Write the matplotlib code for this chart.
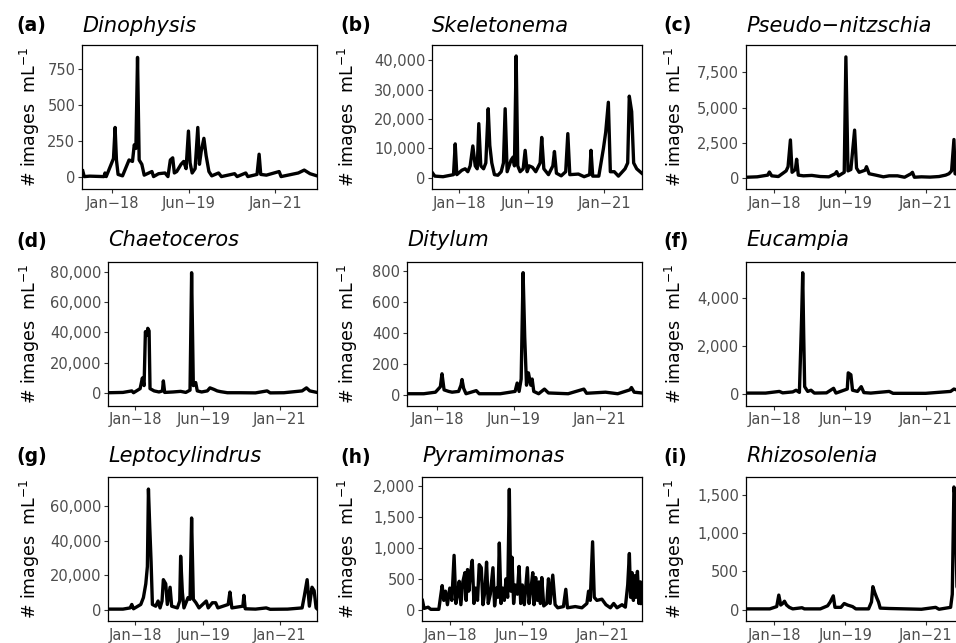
import matplotlib
matplotlib.use("Agg")
import matplotlib.pyplot as plt
import matplotlib.ticker as mticker
import pandas as pd

plt.rcParams['font.family'] = ['DejaVu Sans']
plt.rcParams['mathtext.fontset'] = 'dejavusans'

# ---------------- data ----------------
dino_dates = ['2017-06-15','2017-06-25','2017-08-01','2017-11-05','2017-11-12','2017-11-20',
 '2018-01-08','2018-01-19','2018-01-28','2018-02-08','2018-03-10','2018-04-23','2018-05-16',
 '2018-05-28','2018-06-08','2018-06-19','2018-06-30','2018-07-18','2018-08-03','2018-09-24',
 '2018-10-05','2018-11-08','2018-12-21','2019-01-10','2019-01-26','2019-02-11','2019-02-22',
 '2019-03-10','2019-04-08','2019-04-26','2019-05-12','2019-05-28','2019-06-08','2019-06-22',
 '2019-07-12','2019-07-30','2019-08-10','2019-08-22','2019-09-09','2019-09-24','2019-10-13',
 '2019-11-01','2019-12-17','2020-01-05','2020-04-03','2020-04-20','2020-06-17','2020-07-01',
 '2020-09-01','2020-09-15','2020-09-26','2020-11-03','2021-01-28','2021-02-10','2021-06-06',
 '2021-07-16','2021-08-24','2021-10-10']
dino_vals = [45,5,8,5,30,5,
 130,345,120,20,10,120,110,
 225,200,830,120,90,15,40,
 5,25,30,5,120,135,30,
 40,90,110,60,320,100,30,
 60,345,90,180,270,150,40,
 10,30,5,25,5,30,5,
 20,160,20,15,40,5,30,
 50,25,10]

skel_dates = ['2017-06-15','2017-07-01','2017-09-01','2017-11-19','2017-12-02','2017-12-14',
 '2018-01-21','2018-02-15','2018-03-07','2018-03-25','2018-04-14','2018-05-02','2018-05-17',
 '2018-05-29','2018-06-13','2018-07-04','2018-07-21','2018-08-08','2018-08-20','2018-09-04',
 '2018-09-24','2018-10-20','2018-11-14','2018-12-01','2018-12-14','2018-12-29','2019-01-28',
 '2019-02-12','2019-02-22','2019-03-07','2019-03-19','2019-04-06','2019-04-29','2019-05-14',
 '2019-05-29','2019-06-13','2019-07-08','2019-08-02','2019-09-04','2019-09-16','2019-10-02',
 '2019-11-06','2019-12-09','2019-12-21','2020-01-05','2020-02-10','2020-03-15','2020-03-31',
 '2020-04-15','2020-06-19','2020-08-01','2020-09-12','2020-09-22','2020-10-05','2020-11-20',
 '2020-12-25','2021-01-11','2021-01-31','2021-02-15','2021-03-17','2021-04-17','2021-06-06',
 '2021-06-26','2021-07-08','2021-07-26','2021-08-10','2021-09-02','2021-10-10']
skel_vals = [1500,500,300,1000,11500,1000,
 2500,3000,2000,4000,10800,4000,3000,
 18400,4000,3000,5000,23500,11000,5000,
 1000,800,2000,5000,23500,2000,6000,
 7000,4000,41500,4000,2000,3000,9300,
 2000,4000,3500,2000,5000,13700,3000,
 1000,4000,8900,1500,600,2000,15000,
 1000,1200,300,1000,9300,500,500,
 10000,15500,25700,2000,2000,500,3000,
 5000,27800,22500,5000,3000,1500]

pseudo_dates = ['2017-06-15','2017-09-01','2017-11-16','2017-11-28','2017-12-15','2018-02-01',
 '2018-03-29','2018-04-12','2018-04-29','2018-05-11','2018-06-04','2018-06-13','2018-06-25',
 '2018-08-01','2018-10-01','2018-12-01','2019-02-01','2019-03-19','2019-03-29','2019-04-12',
 '2019-05-23','2019-06-04','2019-06-19','2019-07-10','2019-08-06','2019-08-20','2019-09-08',
 '2019-10-21','2019-10-31','2019-11-19','2020-01-06','2020-03-01','2020-04-12','2020-06-11',
 '2020-08-01','2020-09-17','2020-09-27','2020-10-11','2020-12-01','2021-02-01','2021-04-07',
 '2021-05-25','2021-06-18','2021-07-07','2021-07-24','2021-08-01','2021-10-10']
pseudo_vals = [50,80,200,420,150,100,
 500,800,2700,400,600,1330,200,
 150,180,100,80,300,450,150,
 400,8600,500,600,3400,700,400,
 550,800,300,200,80,150,150,
 50,300,400,50,80,60,100,
 200,300,500,2730,300,100]

chaet_dates = ['2017-06-15','2017-10-01','2017-12-07','2017-12-20','2018-02-08','2018-02-25',
 '2018-03-10','2018-03-20','2018-03-30','2018-04-07','2018-04-17','2018-04-24','2018-05-25',
 '2018-07-01','2018-07-27','2018-08-03','2018-08-13','2018-10-15','2018-12-12','2019-01-20',
 '2019-02-21','2019-03-05','2019-03-18','2019-04-05','2019-04-17','2019-05-20','2019-07-02',
 '2019-07-22','2019-08-21','2019-09-15','2019-10-11','2019-12-01','2020-03-01','2020-07-01',
 '2020-09-27','2020-10-20','2021-02-01','2021-06-19','2021-07-22','2021-08-16','2021-10-10']
chaet_vals = [300,500,1500,300,3000,10000,
 5000,40500,38000,42700,41000,3000,1500,
 800,1500,8100,500,800,1200,500,
 2000,79300,5000,7000,1500,800,1500,
 3500,2500,1500,1000,300,300,200,
 1500,200,300,1500,3500,1500,500]

dity_dates = ['2017-06-15','2017-10-01','2017-12-19','2018-01-21','2018-02-01','2018-02-15',
 '2018-03-18','2018-04-10','2018-05-24','2018-06-09','2018-06-16','2018-06-27','2018-07-13',
 '2018-09-20','2018-10-10','2019-03-01','2019-06-09','2019-06-23','2019-07-06','2019-07-20',
 '2019-08-02','2019-08-13','2019-08-25','2019-09-07','2019-09-23','2019-10-02','2019-10-13',
 '2019-11-15','2019-12-24','2020-01-20','2020-06-01','2020-09-15','2020-10-03','2021-02-08',
 '2021-05-01','2021-07-22','2021-08-02','2021-08-20','2021-10-10']
dity_vals = [5,5,15,50,134,30,
 20,15,20,60,97,40,5,
 25,5,5,20,74,20,100,
 787,370,60,140,60,100,20,
 5,35,10,5,35,8,15,
 5,30,45,15,10]

euc_dates = ['2017-06-15','2017-11-01','2018-02-08','2018-03-04','2018-05-16','2018-06-09',
 '2018-07-03','2018-07-19','2018-07-27','2018-08-03','2018-08-10','2018-09-01','2018-09-25',
 '2018-10-19','2019-01-15','2019-03-07','2019-03-24','2019-06-14','2019-06-21','2019-07-10',
 '2019-07-22','2019-08-27','2019-09-23','2019-10-12','2019-12-01','2020-04-12','2020-05-10',
 '2021-01-01','2021-06-30','2021-07-24','2021-10-10']
euc_vals = [30,30,100,40,80,150,
 60,3200,5080,2500,300,100,150,
 30,40,230,30,200,880,800,
 150,100,300,50,30,100,20,
 20,100,200,50]

lepto_dates = ['2017-06-15','2017-10-01','2017-11-24','2017-12-07','2017-12-20','2018-02-13',
 '2018-03-05','2018-03-23','2018-04-04','2018-04-12','2018-04-22','2018-05-02','2018-05-12',
 '2018-06-06','2018-06-24','2018-07-09','2018-07-24','2018-08-03','2018-08-21','2018-09-02',
 '2018-09-23','2018-10-05','2018-11-17','2018-12-05','2018-12-12','2018-12-25','2019-01-06',
 '2019-02-06','2019-02-21','2019-03-05','2019-03-18','2019-04-07','2019-04-30','2019-06-24',
 '2019-07-09','2019-08-09','2019-09-03','2019-09-20','2019-12-07','2019-12-20','2020-01-04',
 '2020-03-27','2020-04-04','2020-04-14','2020-07-01','2020-09-20','2020-10-20','2021-03-01',
 '2021-06-19','2021-07-06','2021-07-27','2021-08-13','2021-09-02','2021-09-18','2021-10-03',
 '2021-10-10']
lepto_vals = [300,300,1000,3000,500,3000,
 7000,15000,25000,70000,48000,28000,3000,
 2000,5000,1000,5000,17400,15000,3000,
 13000,2000,1000,5000,31000,10000,1000,
 7000,6000,53200,6000,4000,1000,5000,
 1000,4000,4000,1000,3000,10200,1000,
 2000,8300,500,300,1000,200,300,
 1000,8000,17400,2000,13000,11000,1000,
 500]

pyra_dates = ['2017-06-13','2017-06-25','2017-07-24','2017-08-12','2017-10-09','2017-10-21',
 '2017-11-02','2017-11-14','2017-11-26','2017-12-10','2017-12-27','2018-01-11','2018-01-27',
 '2018-02-09','2018-02-21','2018-03-05','2018-03-17','2018-03-31','2018-04-15','2018-04-24',
 '2018-05-04','2018-05-13','2018-05-26','2018-06-07','2018-06-19','2018-07-01','2018-07-15',
 '2018-07-27','2018-08-11','2018-08-23','2018-09-06','2018-09-18','2018-09-30','2018-10-15',
 '2018-11-03','2018-11-15','2018-11-29','2018-12-09','2018-12-19','2018-12-31','2019-01-12',
 '2019-01-24','2019-02-05','2019-02-17','2019-03-01','2019-03-11','2019-03-20','2019-04-01',
 '2019-04-13','2019-04-28','2019-05-10','2019-05-22','2019-06-03','2019-06-17','2019-07-09',
 '2019-07-21','2019-08-02','2019-08-17','2019-08-26','2019-09-07','2019-09-19','2019-10-01',
 '2019-10-11','2019-10-21','2019-11-04','2019-11-26','2019-12-08','2019-12-20','2020-01-08',
 '2020-01-25','2020-02-13','2020-03-25','2020-04-11','2020-04-23','2020-06-18','2020-08-05',
 '2020-09-10','2020-09-22','2020-10-04','2020-10-21','2020-11-02','2020-11-21','2020-12-27',
 '2021-01-25','2021-02-26','2021-03-22','2021-04-15','2021-05-21','2021-06-14','2021-07-01',
 '2021-07-13','2021-07-22','2021-08-01','2021-08-11','2021-08-20','2021-08-30','2021-09-09',
 '2021-09-20','2021-10-01','2021-10-10']
pyra_vals = [150,20,40,5,5,200,
 390,150,300,80,350,150,880,
 100,250,460,80,450,600,150,
 650,300,600,800,100,350,150,
 730,680,80,300,770,100,250,
 680,60,350,200,1080,100,350,
 150,500,200,1950,300,850,100,
 400,250,700,100,400,80,680,
 100,300,600,80,520,150,450,
 100,520,60,100,500,100,560,
 80,30,50,330,30,50,30,
 100,300,150,1100,200,150,170,
 80,30,100,30,80,40,400,
 910,200,600,150,550,200,620,
 100,450,100]

rhizo_dates = ['2017-06-15','2017-12-01','2018-01-20','2018-02-04','2018-02-18','2018-03-04',
 '2018-03-17','2018-04-01','2018-04-21','2018-05-16','2018-07-22','2018-08-08','2018-12-01',
 '2019-01-23','2019-02-11','2019-03-05','2019-03-17','2019-04-29','2019-05-23','2019-06-16',
 '2019-07-22','2019-08-15','2019-11-15','2019-12-06','2019-12-16','2019-12-30','2020-01-14',
 '2020-01-26','2020-02-07','2020-04-12','2020-12-01','2021-03-14','2021-04-07','2021-06-30',
 '2021-07-12','2021-07-24','2021-07-31','2021-08-15','2021-10-10']
rhizo_vals = [10,10,40,190,60,80,
 110,60,30,10,25,10,10,
 50,100,180,30,30,80,60,
 40,10,10,100,300,220,150,
 100,20,15,5,30,5,30,
 200,1600,1500,300,50]

tags = ['(a)', '(b)', '(c)', '(d)', '', '(f)', '(g)', '(h)', '(i)']
titles = ['Dinophysis', 'Skeletonema', 'Pseudo\u2212nitzschia', 'Chaetoceros', 'Ditylum',
          'Eucampia', 'Leptocylindrus', 'Pyramimonas', 'Rhizosolenia']
series = [(dino_dates, dino_vals), (skel_dates, skel_vals), (pseudo_dates, pseudo_vals),
          (chaet_dates, chaet_vals), (dity_dates, dity_vals), (euc_dates, euc_vals),
          (lepto_dates, lepto_vals), (pyra_dates, pyra_vals), (rhizo_dates, rhizo_vals)]
yticks = [[0, 250, 500, 750], [0, 10000, 20000, 30000, 40000], [0, 2500, 5000, 7500],
          [0, 20000, 40000, 60000, 80000], [0, 200, 400, 600, 800], [0, 2000, 4000],
          [0, 20000, 40000, 60000], [0, 500, 1000, 1500, 2000], [0, 500, 1000, 1500]]
ylims = [(-83, 916), (-4000, 45257), (-807, 9447), (-8109, 86566), (-71, 858),
         (-491, 5544), (-6774, 76835), (-189, 2146), (-152, 1726)]
xtick_dates = ['2018-01-01', '2019-06-01', '2021-01-01']
xtick_labels = ['Jan\u221218', 'Jun\u221219', 'Jan\u221221']
x_range = ('2017-06-12', '2021-10-12')

# ---------------- layout (pixels) ----------------
W, H = 956, 643
boxes = [(82.3, 317.3, 45.0, 189.3), (432.3, 642.0, 45.0, 189.3), (746.0, 965.0, 45.0, 189.3),
         (108.3, 317.3, 261.7, 405.5), (407.3, 642.0, 261.7, 405.5), (746.0, 965.0, 261.7, 405.5),
         (108.3, 317.3, 477.3, 621.3), (422.3, 642.0, 477.3, 621.3), (746.0, 965.0, 477.3, 621.3)]
col_tag_x = [16.5, 340.5, 663.0]
col_ylab_x = [29.5, 347.5, 675.0]
row_base_y = [31.5, 246.5, 462.5]

fig = plt.figure(figsize=(W / 100, H / 100), dpi=100)
fig.patch.set_facecolor('white')

for k in range(9):
    L, R, T, B = boxes[k]
    ax = fig.add_axes([L / W, 1 - B / H, (R - L) / W, (B - T) / H])
    d, v = series[k]
    ax.plot(pd.to_datetime(d), v, color='black', lw=2.4, solid_joinstyle='round')
    ax.set_xlim(pd.to_datetime(x_range[0]), pd.to_datetime(x_range[1]))
    ax.set_ylim(*ylims[k])
    ax.set_yticks(yticks[k])
    ax.yaxis.set_major_formatter(mticker.FuncFormatter(lambda x, p: f"{int(round(x)):,}"))
    ax.set_xticks(pd.to_datetime(xtick_dates))
    ax.set_xticklabels(xtick_labels)
    for s in ax.spines.values():
        s.set_linewidth(0.9)
        s.set_color('black')
    ax.tick_params(axis='both', length=3.0, width=0.8, color='#333333',
                   labelcolor='#4D4D4D', labelsize=10.5, pad=2)
    row, col = divmod(k, 3)
    if tags[k]:
        fig.text(col_tag_x[col] / W, 1 - row_base_y[row] / H, tags[k], fontsize=13.5,
                 fontweight='bold', ha='left', va='baseline')
    fig.text(L / W, 1 - row_base_y[row] / H, titles[k], fontsize=15, style='italic',
             ha='left', va='baseline')
    fig.text(col_ylab_x[col] / W, 1 - (T + B) / 2 / H, r"# images  mL$^{-1}$", fontsize=12.5,
             rotation=90, ha='center', va='center')

fig.savefig('out.png', dpi=100, facecolor='white')
